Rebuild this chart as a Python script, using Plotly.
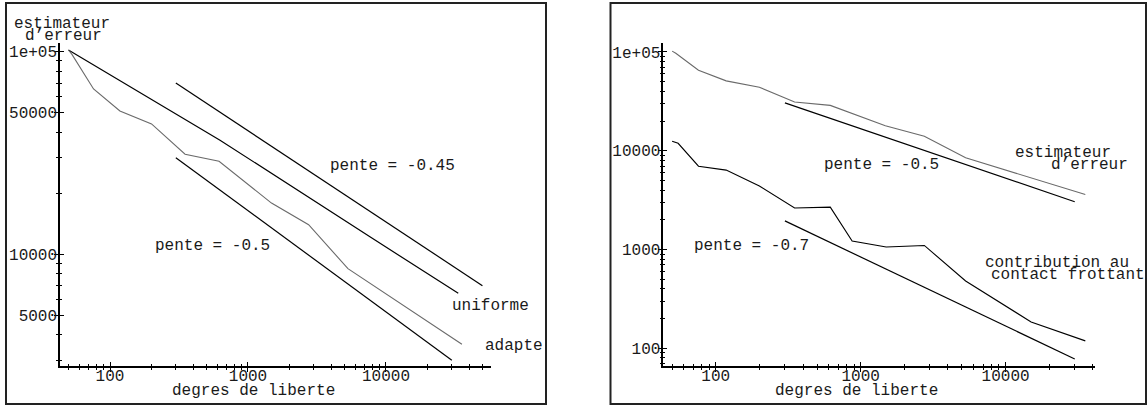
import plotly.graph_objects as go

W, H = 1148, 408

# ---------------- data : left panel ----------------
dof_adapte = [50, 53, 76, 118, 200, 350, 617, 1480, 2750, 5300, 35500]
err_adapte = [102000, 97000, 65500, 51000, 44000, 31200, 28800, 17900, 14000, 8500, 3600]
dof_uniforme = [50, 627, 7650, 33400]
err_uniforme = [102000, 36600, 12200, 6420]
dof_pente045 = [300, 50000]
val_pente045 = [70000, 7000]
dof_pente05 = [300, 30000]
val_pente05 = [30000, 3000]

# ---------------- data : right panel ----------------
dof_estim = [50, 53, 76, 118, 200, 350, 617, 1480, 2750, 5300, 35500]
err_estim = [102000, 97000, 65500, 51000, 44000, 31200, 28800, 17900, 14000, 8500, 3600]
dof_contact = [50, 55, 76, 118, 200, 350, 617, 873, 1500, 2750, 5300, 15000, 35500]
err_contact = [12500, 11900, 6980, 6370, 4390, 2630, 2690, 1220, 1060, 1100, 480, 185, 119]
dof_pente05_r = [300, 30000]
val_pente05_r = [30500, 3050]
dof_pente07 = [300, 30000]
val_pente07 = [1950, 78]

# ---------------- tick labels ----------------
x_ticks = [100, 1000, 10000]
x_ticktext = ["100", "1000", "10000"]
left_yticks = [5000, 10000, 50000, 100000]
left_yticktext = ["5000", "10000", "50000", "1e+05"]
right_yticks = [100, 1000, 10000, 100000]
right_yticktext = ["100", "1000", "10000", "1e+05"]
minor_vals = [m * 10 ** e for e in range(1, 6) for m in range(2, 10)]

FONT = "Liberation Mono, Courier New, monospace"
TXT = "#1a1a1a"
BLACK = "#000000"
GRAY = "#6a6a6a"


def pxx(x):
    return x / W


def pxy(y):
    return 1 - y / H


fig = go.Figure()

# left panel traces
fig.add_trace(go.Scatter(x=dof_uniforme, y=err_uniforme, mode="lines",
                         line=dict(color=BLACK, width=1.2), xaxis="x", yaxis="y"))
fig.add_trace(go.Scatter(x=dof_adapte, y=err_adapte, mode="lines",
                         line=dict(color=GRAY, width=1.1), xaxis="x", yaxis="y"))
fig.add_trace(go.Scatter(x=dof_pente045, y=val_pente045, mode="lines",
                         line=dict(color=BLACK, width=1.2), xaxis="x", yaxis="y"))
fig.add_trace(go.Scatter(x=dof_pente05, y=val_pente05, mode="lines",
                         line=dict(color=BLACK, width=1.2), xaxis="x", yaxis="y"))

# right panel traces
fig.add_trace(go.Scatter(x=dof_estim, y=err_estim, mode="lines",
                         line=dict(color=GRAY, width=1.1), xaxis="x2", yaxis="y2"))
fig.add_trace(go.Scatter(x=dof_contact, y=err_contact, mode="lines",
                         line=dict(color=BLACK, width=1.1), xaxis="x2", yaxis="y2"))
fig.add_trace(go.Scatter(x=dof_pente05_r, y=val_pente05_r, mode="lines",
                         line=dict(color=BLACK, width=1.2), xaxis="x2", yaxis="y2"))
fig.add_trace(go.Scatter(x=dof_pente07, y=val_pente07, mode="lines",
                         line=dict(color=BLACK, width=1.2), xaxis="x2", yaxis="y2"))

# empty traces so the overlay (inner-tick) axes get drawn
fig.add_trace(go.Scatter(x=[], y=[], xaxis="x3", yaxis="y3", hoverinfo="skip"))
fig.add_trace(go.Scatter(x=[], y=[], xaxis="x4", yaxis="y4", hoverinfo="skip"))

tickfont = dict(family=FONT, size=16, color=TXT)

left_xrange = [1.6377, 4.761]
left_yrange = [3.4487, 5.043]
right_xrange = [1.638, 4.617]
right_yrange = [1.821, 5.091]
ydom = [pxy(366), pxy(43)]


def main_axis(rng, dom, tv, tt, anchor, standoff):
    return dict(type="log", range=rng, domain=dom, anchor=anchor,
                tickvals=tv, ticktext=tt, tickfont=tickfont,
                ticks="outside", ticklen=4, tickwidth=1.2, tickcolor=BLACK,
                ticklabelstandoff=standoff,
                showline=True, linecolor=BLACK, linewidth=1.5,
                showgrid=False, zeroline=False,
                minor=dict(tickvals=minor_vals, ticks="outside", ticklen=2,
                           tickwidth=1, tickcolor=BLACK, showgrid=False))


def inner_axis(rng, tv, over, anchor):
    return dict(type="log", range=rng, overlaying=over, anchor=anchor,
                tickvals=tv, showticklabels=False,
                ticks="inside", ticklen=4, tickwidth=1.2, tickcolor=BLACK,
                showline=False, showgrid=False, zeroline=False,
                minor=dict(tickvals=minor_vals, ticks="inside", ticklen=2,
                           tickwidth=1, tickcolor=BLACK, showgrid=False))


fig.update_layout(
    width=W, height=H,
    margin=dict(l=0, r=0, t=0, b=0),
    paper_bgcolor="white", plot_bgcolor="white",
    showlegend=False,
    font=dict(family=FONT, size=16, color=TXT),
    xaxis=main_axis(left_xrange, [pxx(60), pxx(491)], x_ticks, x_ticktext, "y", -10),
    yaxis=main_axis(left_yrange, ydom, left_yticks, left_yticktext, "x", -6),
    xaxis2=main_axis(right_xrange, [pxx(663.3), pxx(1095)], x_ticks, x_ticktext, "y2", -10),
    yaxis2=main_axis(right_yrange, ydom, right_yticks, right_yticktext, "x2", -6),
    xaxis3=inner_axis(left_xrange, x_ticks, "x", "y"),
    yaxis3=inner_axis(left_yrange, left_yticks, "y", "x"),
    xaxis4=inner_axis(right_xrange, x_ticks, "x2", "y2"),
    yaxis4=inner_axis(right_yrange, right_yticks, "y2", "x2"),
)

# frames around each panel
for x0, x1 in [(6, 546), (610.5, 1146)]:
    fig.add_shape(type="rect", xref="paper", yref="paper",
                  x0=pxx(x0), x1=pxx(x1), y0=pxy(404), y1=pxy(3),
                  line=dict(color="#222222", width=2), fillcolor="rgba(0,0,0,0)")

labels = [
    ("estimateur", 62, 24),
    ("d’erreur", 63.5, 36),
    ("pente = -0.45", 392.5, 166),
    ("pente = -0.5", 212, 246),
    ("uniforme", 490, 306),
    ("adapte", 513.7, 346),
    ("degres de liberte", 253.5, 391),
    ("pente = -0.5", 881.5, 165),
    ("estimateur", 1062.5, 153),
    ("d’erreur", 1089.4, 165),
    ("pente = -0.7", 752, 246),
    ("contribution au", 1056.7, 262.5),
    ("contact frottant", 1068.4, 274.5),
    ("degres de liberte", 856.5, 390.5),
]
for txt, x, y in labels:
    fig.add_annotation(text=txt, x=pxx(x), y=pxy(y), xref="paper", yref="paper",
                       xanchor="center", yanchor="middle", showarrow=False,
                       font=dict(family=FONT, size=16, color=TXT))

fig.write_html("out.html", config={"displayModeBar": False},
               post_script="document.body.style.margin='0';")
